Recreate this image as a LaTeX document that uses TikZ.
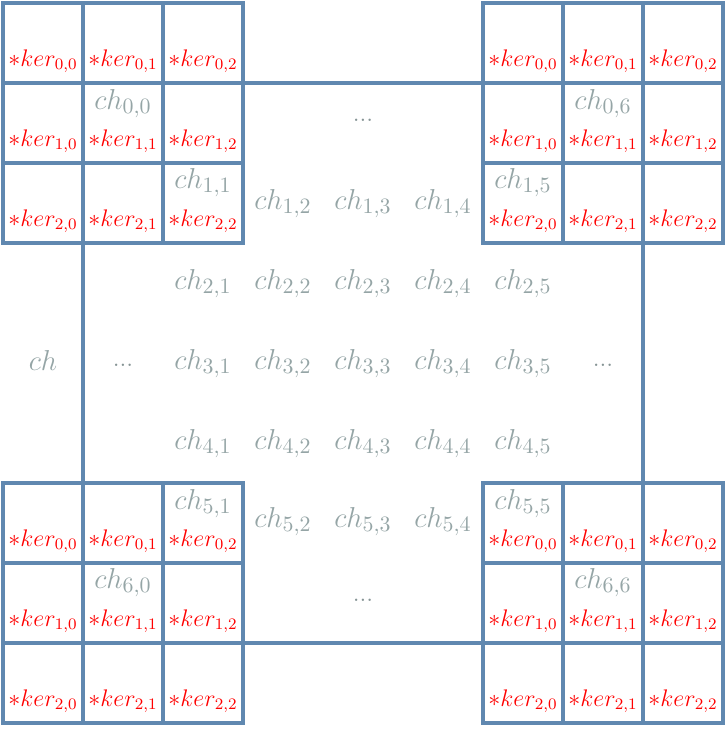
\documentclass[tikz,border=0pt]{standalone}
\definecolor{gridblue}{RGB}{96,136,176}
\definecolor{chgray}{RGB}{149,165,166}
\definecolor{kred}{RGB}{255,0,0}
\begin{document}
\begin{tikzpicture}[x=0.5pt,y=-0.5pt,
  gridline/.style={draw=gridblue,line width=2pt},
  cellbox/.style={gridline,fill=white},
  kerlabel/.style={anchor=base,inner sep=0pt,text=kred,font=\fontsize{12}{14}\selectfont},
  chlabel/.style={anchor=base,inner sep=0pt,text=chgray,font=\fontsize{15.5}{18}\selectfont},
  dotlabel/.style={anchor=base,inner sep=0pt,text=chgray!90!black,font=\fontsize{12.5}{14}\selectfont}]
\useasboundingbox (0,0) rectangle (726,736);
% channel outline
\draw[gridline] (83,83) rectangle (643,643);
% kernel grids
\foreach \g/\ox/\oy in {tl/3/3, tr/483/3, bl/3/483, br/483/483}{
  \foreach \r in {0,1,2}{
    \foreach \c in {0,1,2}{
      \path[cellbox] (\ox+\c*80,\oy+\r*80) rectangle (\ox+\c*80+80,\oy+\r*80+80);
      \node[kerlabel] (k-\g-\r-\c) at (\ox+\c*80+40,\oy+\r*80+63) {$*ker_{\r,\c}$};
    }
  }
}
% ch labels inside kernel cells
\node[chlabel] (c00) at (123,109) {$ch_{0,0}$};
\node[chlabel] (c11) at (203,188) {$ch_{1,1}$};
\node[chlabel] (c06) at (603,109) {$ch_{0,6}$};
\node[chlabel] (c15) at (523,188) {$ch_{1,5}$};
\node[chlabel] (c51) at (203,509) {$ch_{5,1}$};
\node[chlabel] (c60) at (123,588) {$ch_{6,0}$};
\node[chlabel] (c55) at (523,509) {$ch_{5,5}$};
\node[chlabel] (c66) at (603,588) {$ch_{6,6}$};
% middle ch labels
\foreach \j/\x in {2/283,3/363,4/443}{
  \node[chlabel] (c1\j) at (\x,209) {$ch_{1,\j}$};
  \node[chlabel] (c5\j) at (\x,527) {$ch_{5,\j}$};
}
\foreach \i/\y in {2/289,3/369,4/449}{
  \foreach \j/\x in {1/203,2/283,3/363,4/443,5/523}{
    \node[chlabel] (c\i\j) at (\x,\y) {$ch_{\i,\j}$};
  }
}
% dots and ch
\node[dotlabel] (dtop) at (363,121) {...};
\node[dotlabel] (dbot) at (363,601) {...};
\node[dotlabel] (dleft) at (123,366) {...};
\node[dotlabel] (dright) at (603,366) {...};
\node[chlabel] (chmain) at (43,370) {$ch$};
\end{tikzpicture}
\end{document}
